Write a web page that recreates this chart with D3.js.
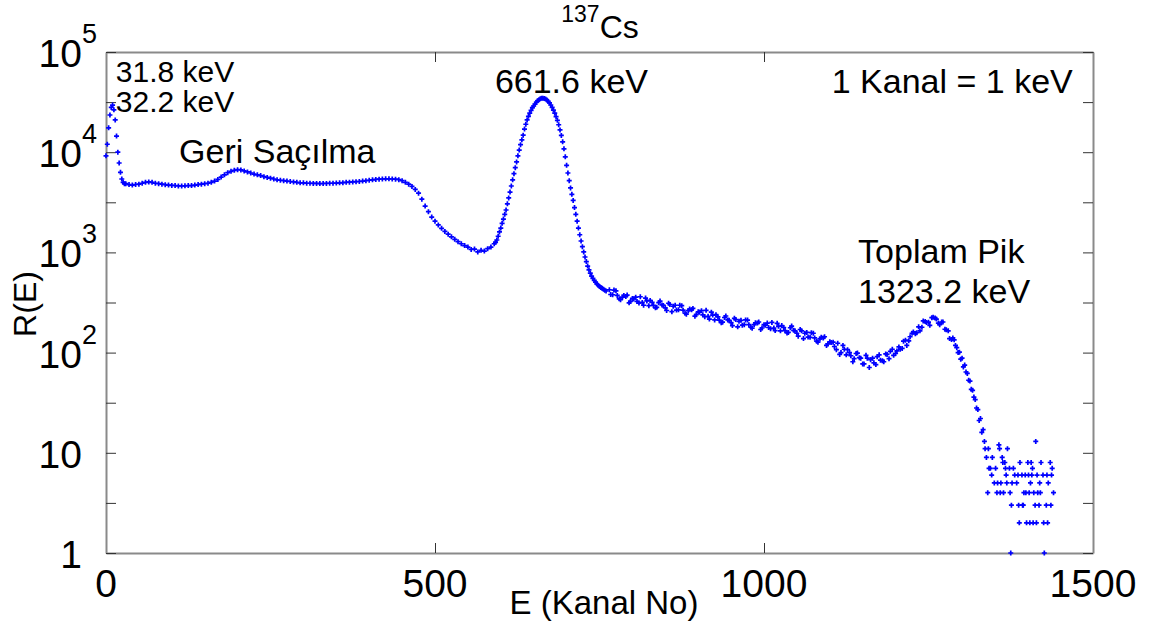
<!DOCTYPE html>
<html>
<head>
<meta charset="utf-8">
<script src="https://cdn.jsdelivr.net/npm/d3@7"></script>
<style>
    body { margin: 0; background: #fff; }
    text { font-family: "Liberation Sans", Arial, sans-serif; fill: #000; }
</style>
</head>
<body>
<svg id="chart" width="1154" height="626"></svg>
<script>
"use strict";

// counts per channel
// x-ray peak, channels 0..28 every 2
var xrayStart = 0, xrayStep = 2;
var xrayCounts = [9200, 12000, 17500, 23500, 28000, 29500, 26500, 21000,
    14500, 10000, 7800, 6300, 5400, 5000, 4850];

// compton plateau with backscatter bump, channels 30..590 every 5
var comptonStart = 30, comptonStep = 5;
var comptonCounts = [4850, 4750, 4700, 4760, 4800, 4900, 5000, 5050, 5000, 4900,
    4850, 4800, 4740, 4700, 4660, 4650, 4610, 4600, 4620, 4650,
    4640, 4700, 4750, 4800, 4850, 4900, 5000, 5150, 5350, 5650,
    5950, 6250, 6450, 6600, 6700, 6650, 6500, 6350, 6200, 6050,
    5950, 5850, 5700, 5600, 5500, 5400, 5300, 5250, 5200, 5150,
    5100, 5050, 5000, 4950, 4950, 4900, 4900, 4880, 4880, 4860,
    4870, 4880, 4900, 4900, 4920, 4950, 4970, 5000, 5020, 5050,
    5080, 5100, 5150, 5200, 5250, 5300, 5350, 5380, 5400, 5420,
    5420, 5400, 5380, 5320, 5200, 5000, 4800, 4550, 4250, 3900,
    3400, 2900, 2550, 2250, 2050, 1880, 1740, 1620, 1520, 1430,
    1350, 1280, 1220, 1170, 1130, 1070, 1080, 1010, 1050, 1030,
    1090, 1130, 1220];

// photopeak, channels 592..760 every 2
var photoStart = 592, photoStep = 2;
var photoCounts = [1260, 1330, 1450, 1600, 1750, 1950, 2150, 2400, 2650, 3050,
    3500, 4000, 4600, 5300, 6100, 7000, 8000, 9200, 10500, 11900,
    13300, 14800, 17000, 19000, 21000, 22800, 24500, 26200, 27800, 28900,
    30200, 31500, 32600, 33400, 34100, 34500, 34600, 34400, 33900, 33200,
    32200, 31000, 29600, 28000, 26300, 24500, 22700, 20800, 18800, 16700,
    14700, 12700, 10800, 9000, 7400, 6200, 5200, 4400, 3800, 3300,
    2800, 2400, 2050, 1750, 1500, 1300, 1140, 1010, 900, 810,
    730, 670, 620, 580, 550, 525, 505, 485, 470, 458,
    447, 438, 428, 420, 412];

// continuum and sum peak, channels 765..1285 every 5
var contStart = 765, contStep = 5;
var contCounts = [424, 378, 414, 344, 358, 364, 314, 347, 357, 312,
    317, 350, 294, 317, 280, 315, 299, 280, 311, 256,
    297, 267, 294, 247, 262, 268, 231, 255, 262, 228,
    230, 253, 212, 227, 199, 224, 212, 199, 220, 181,
    210, 190, 211, 179, 190, 197, 170, 190, 197, 173,
    176, 196, 165, 178, 157, 177, 167, 156, 170, 138,
    159, 142, 156, 130, 137, 140, 118, 128, 127, 107,
    96, 118, 95, 100, 81, 98, 89, 77, 94, 71,
    88, 76, 95, 83, 97, 87, 108, 98, 114, 110,
    133, 131, 156, 154, 181, 179, 204, 201, 223, 221,
    197, 202, 171, 165, 135];

// same region, the channels in between (767..1282 every 5)
var contBStart = 767, contBStep = 5;
var contBCounts = [380, 421, 372, 337, 372, 375, 324, 343, 324, 361,
    297, 328, 332, 296, 283, 327, 296, 263, 302, 290,
    266, 297, 265, 242, 272, 276, 239, 253, 238, 264,
    216, 237, 239, 211, 201, 232, 210, 186, 214, 205,
    188, 212, 190, 175, 198, 202, 176, 188, 178, 200,
    166, 183, 186, 166, 159, 184, 165, 146, 165, 156,
    143, 158, 140, 127, 142, 144, 122, 126, 115, 124,
    100, 108, 107, 93, 87, 99, 88, 77, 88, 85,
    79, 91, 84, 81, 96, 103, 94, 104, 108, 130,
    118, 144, 161, 158, 165, 207, 200, 187, 225, 216,
    190, 202, 169, 138];

// falling edge after the sum peak, channels 1287..1335 every 2
var edgeStart = 1287, edgeStep = 2;
var edgeCounts = [140, 134, 118, 112, 100, 101, 86, 88, 72, 75,
    64, 62, 53, 52, 43, 42, 36, 34, 28, 27,
    21, 22, 16, 17, 13];

// sparse low counts at the end of the spectrum
var tailChannels = [1336, 1338, 1340, 1341, 1342, 1344, 1346, 1347, 1350, 1352,
    1354, 1355, 1357, 1358, 1359, 1360, 1362, 1363, 1364, 1366,
    1367, 1368, 1369, 1370, 1373, 1374, 1375, 1376, 1377, 1379,
    1381, 1384, 1386, 1387, 1388, 1389, 1392, 1393, 1394, 1395,
    1397, 1398, 1399, 1401, 1402, 1403, 1404, 1405, 1406, 1407,
    1408, 1409, 1410, 1412, 1413, 1414, 1415, 1416, 1418, 1419,
    1420, 1421, 1424, 1425, 1426, 1429, 1430, 1431, 1432, 1435,
    1436, 1437, 1438, 1440];
var tailCounts = [11, 9, 4, 11, 7, 7, 6, 9, 5, 7,
    4, 5, 12, 11, 4, 5, 9, 8, 4, 8,
    7, 6, 5, 11, 7, 4, 1, 3, 5, 7,
    6, 5, 6, 3, 2, 8, 6, 3, 3, 4,
    6, 4, 2, 8, 6, 4, 2, 5, 8, 6,
    7, 2, 4, 3, 13, 2, 6, 4, 3, 5,
    4, 8, 6, 2, 1, 3, 6, 2, 5, 8,
    3, 6, 7, 4];

// axes
var xTicks = [0, 500, 1000, 1500];
var yMajor = [1, 10, 100, 1000, 10000, 100000];
var yMajorBase = ["1", "10", "10", "10", "10", "10"];
var yMajorExp = ["", "", "2", "3", "4", "5"];
var yMinor = [3.162, 31.62, 316.2, 3162, 31623];

// annotations (channel, count, text)
var notes = [
    { ch: 15, n: 50000, size: 30, text: "31.8 keV" },
    { ch: 15, n: 25000, size: 30, text: "32.2 keV" },
    { ch: 111, n: 7800, size: 34, text: "Geri Saçılma" },
    { ch: 591, n: 39000, size: 34, text: "661.6 keV" },
    { ch: 1103, n: 39000, size: 34, text: "1 Kanal = 1 keV" },
    { ch: 1143, n: 783, size: 34, text: "Toplam Pik" },
    { ch: 1143, n: 313, size: 34, text: "1323.2 keV" }
];

function segment(start, step, counts) {
    return counts.map(function(c, i) { return { ch: start + i * step, n: c }; });
}

function drawChart() {
    var points = []
        .concat(segment(xrayStart, xrayStep, xrayCounts))
        .concat(segment(comptonStart, comptonStep, comptonCounts))
        .concat(segment(photoStart, photoStep, photoCounts))
        .concat(segment(contStart, contStep, contCounts))
        .concat(segment(contBStart, contBStep, contBCounts))
        .concat(segment(edgeStart, edgeStep, edgeCounts))
        .concat(tailChannels.map(function(c, i) { return { ch: c, n: tailCounts[i] }; }));

    var left = 106, right = 1093, plotTop = 52, bottom = 553;
    var svg = d3.select("#chart");

    var x = d3.scaleLinear().domain([0, 1500]).range([left, right]);
    var y = d3.scaleLog().domain([1, 100000]).range([bottom, plotTop]);

    var allY = yMajor.concat(yMinor);

    function styleAxis(g) {
        g.select(".domain").attr("stroke", "#8a8a8a").attr("stroke-width", 2);
        g.selectAll(".tick line").attr("stroke", "#333").attr("stroke-width", 1);
        g.selectAll(".tick text").remove();
    }

    svg.append("g")
        .attr("transform", "translate(0," + bottom + ")")
        .call(d3.axisBottom(x).tickValues(xTicks).tickSize(-10).tickSizeOuter(0))
        .call(styleAxis);
    svg.append("g")
        .attr("transform", "translate(0," + plotTop + ")")
        .call(d3.axisTop(x).tickValues(xTicks).tickSize(-10).tickSizeOuter(0))
        .call(styleAxis);
    svg.append("g")
        .attr("transform", "translate(" + left + ",0)")
        .call(d3.axisLeft(y).tickValues(allY).tickSize(-10).tickSizeOuter(0))
        .call(styleAxis);
    svg.append("g")
        .attr("transform", "translate(" + right + ",0)")
        .call(d3.axisRight(y).tickValues(allY).tickSize(-10).tickSizeOuter(0))
        .call(styleAxis);

    // x tick labels
    svg.append("g").selectAll("text")
        .data(xTicks)
        .enter()
        .append("text")
        .attr("x", function(d) { return x(d); })
        .attr("y", bottom + 44)
        .attr("text-anchor", "middle")
        .attr("font-size", 39)
        .text(function(d) { return d; });

    // y tick labels, base and superscript
    var yl = svg.append("g");
    yl.selectAll("text.base")
        .data(yMajor)
        .enter()
        .append("text")
        .attr("class", "base")
        .attr("x", 82)
        .attr("y", function(d) { return y(d) + 15; })
        .attr("text-anchor", "end")
        .attr("font-size", 39)
        .text(function(d, i) { return yMajorBase[i]; });
    yl.selectAll("text.exp")
        .data(yMajor)
        .enter()
        .append("text")
        .attr("class", "exp")
        .attr("x", 82)
        .attr("y", function(d) { return y(d) - 9; })
        .attr("font-size", 27)
        .text(function(d, i) { return yMajorExp[i]; });

    // axis titles
    svg.append("text")
        .attr("x", 604)
        .attr("y", 614)
        .attr("text-anchor", "middle")
        .attr("font-size", 33)
        .text("E (Kanal No)");
    svg.append("text")
        .attr("transform", "translate(36," + 304 + ") rotate(-90)")
        .attr("text-anchor", "middle")
        .attr("font-size", 32)
        .text("R(E)");

    // title
    var title = svg.append("text")
        .attr("x", 600)
        .attr("y", 38)
        .attr("text-anchor", "middle");
    title.append("tspan").attr("font-size", 23).attr("dy", -16).text("137");
    title.append("tspan").attr("font-size", 32).attr("dy", 16).text("Cs");

    // data markers
    svg.append("g")
        .selectAll("path")
        .data(points)
        .enter()
        .append("path")
        .attr("d", function(d) {
            var px = x(d.ch), py = y(d.n);
            return "M" + (px - 2.5) + "," + py + "h5M" + px + "," + (py - 2.5) + "v5";
        })
        .attr("stroke", "#0000ff")
        .attr("stroke-width", 1.7)
        .attr("fill", "none");

    // annotations
    svg.append("g").selectAll("text")
        .data(notes)
        .enter()
        .append("text")
        .attr("x", function(d) { return x(d.ch); })
        .attr("y", function(d) { return y(d.n); })
        .attr("font-size", function(d) { return d.size; })
        .text(function(d) { return d.text; });
}

drawChart();
</script>
</body>
</html>
